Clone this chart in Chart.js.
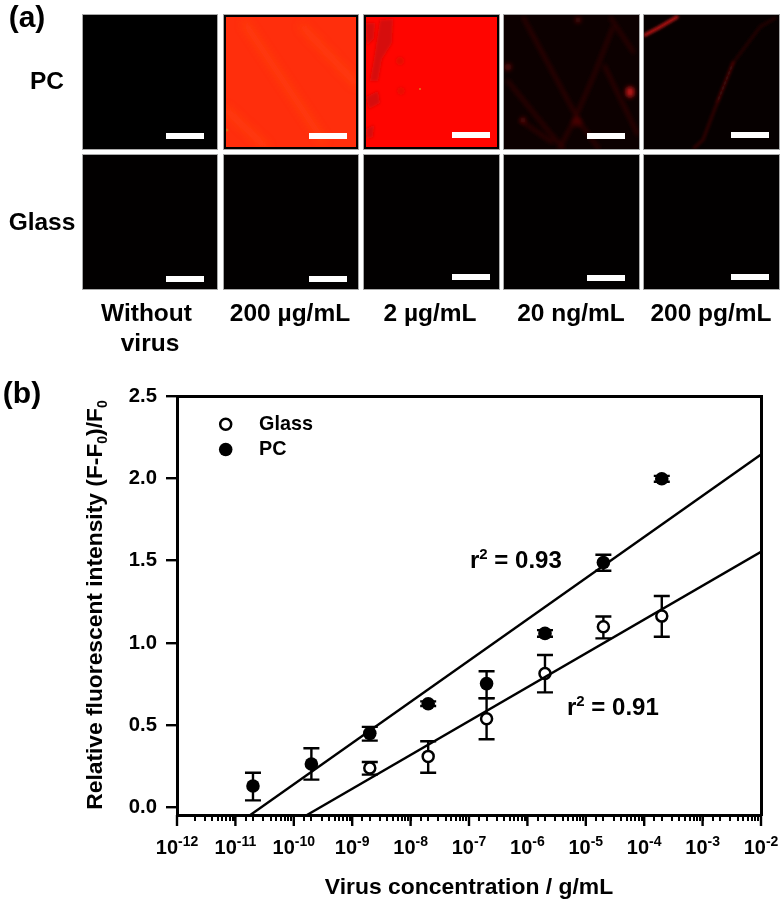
<!DOCTYPE html>
<html><head><meta charset="utf-8">
<script src="https://cdn.jsdelivr.net/npm/chart.js@4"></script>
<style>
html,body{margin:0;padding:0;background:#fff;width:782px;height:903px;overflow:hidden}
body{position:relative;font-family:"Liberation Sans",Arial,sans-serif;font-weight:bold;color:#000}
#c{position:absolute;left:0;top:0}
.t{position:absolute;white-space:nowrap;transform:translateX(-50%);font-size:24.5px;line-height:28px}
.p{position:absolute;width:134.5px;height:134px;background:#000;overflow:hidden;outline:1px solid #a8a8a8;outline-offset:0}
.b{position:absolute;background:#fff;height:6px;width:38px}
svg{position:absolute;left:0;top:0}
</style></head><body>
<canvas id="c" width="782" height="903"></canvas>
<div id="panels"></div>
<script>
const decades=[-12,-11,-10,-9,-8,-7,-6,-5,-4,-3,-2];
const concentrations=[2e-11,2e-10,2e-9,2e-8,2e-7,2e-6,2e-5,2e-4];
const pcValues=[0.131,0.265,0.451,0.631,0.753,1.058,1.489,1.997];
const pcHigh=[0.212,0.360,0.490,0.645,0.828,1.078,1.536,2.015];
const pcLow=[0.044,0.170,0.407,0.617,0.664,1.038,1.439,1.979];
const glassConc=[2e-9,2e-8,2e-7,2e-6,2e-5,2e-4];
const glassValues=[0.240,0.311,0.540,0.815,1.099,1.163];
const glassHigh=[0.277,0.403,0.665,0.927,1.161,1.285];
const glassLow=[0.200,0.212,0.415,0.700,1.028,1.038];
const pcFitX=[1.8e-11,1e-2], pcFitY=[-0.045,2.145];
const glassFitX=[1.68e-10,1e-2], glassFitY=[-0.045,1.554];
const yTicks=[0,0.5,1,1.5,2,2.5];

const toPts=(xs,ys)=>xs.map((x,i)=>({x,y:ys[i]}));
const F='"Liberation Sans",Arial,sans-serif';

const deco={id:'deco',
 beforeDatasetsDraw(ch){
  const {ctx,scales:{x,y}}=ch;
  ctx.save();ctx.strokeStyle='#000';ctx.lineWidth=2.4;
  const bars=(xs,hi,lo)=>xs.forEach((v,i)=>{
    const px=x.getPixelForValue(v),t=y.getPixelForValue(hi[i]),b=y.getPixelForValue(lo[i]);
    ctx.beginPath();ctx.moveTo(px,t);ctx.lineTo(px,b);
    ctx.moveTo(px-8,t);ctx.lineTo(px+8,t);ctx.moveTo(px-8,b);ctx.lineTo(px+8,b);ctx.stroke();});
  bars(concentrations,pcHigh,pcLow);bars(glassConc,glassHigh,glassLow);
  ctx.restore();
 },
 afterDraw(ch){
  const {ctx,scales:{x,y},chartArea:a}=ch;
  ctx.save();ctx.strokeStyle='#000';ctx.fillStyle='#000';
  decades.forEach(d=>{
    const p=x.getPixelForValue(Math.pow(10,d));
    ctx.lineWidth=2.4;ctx.beginPath();ctx.moveTo(p,a.bottom);ctx.lineTo(p,a.bottom+11);ctx.stroke();
    ctx.textAlign='left';ctx.textBaseline='alphabetic';
    const e=String(d);
    ctx.font='bold 20px '+F;const w1=ctx.measureText('10').width;
    ctx.font='bold 14px '+F;const w2=ctx.measureText(e).width;
    const sx=p-(w1+w2)/2;
    ctx.font='bold 20px '+F;ctx.fillText('10',sx,854);
    ctx.font='bold 14px '+F;ctx.fillText(e,sx+w1,846);
  });
  ctx.textBaseline='middle';ctx.textAlign='left';ctx.lineWidth=2.5;
  const lx=225.7;
  ctx.beginPath();ctx.arc(lx,424.3,5.5,0,7);ctx.fillStyle='#fff';ctx.fill();ctx.stroke();
  ctx.beginPath();ctx.arc(lx,449.5,6.8,0,7);ctx.fillStyle='#000';ctx.fill();
  ctx.font='bold 19.8px '+F;
  ctx.fillText('Glass',259,424.8);ctx.fillText('PC',259,450);
  const rr=(px,py,val)=>{ctx.textBaseline='alphabetic';ctx.font='bold 24px '+F;ctx.fillText('r',px,py);
    const w=ctx.measureText('r').width;ctx.font='bold 15px '+F;ctx.fillText('2',px+w,py-9);
    const w2=ctx.measureText('2').width;ctx.font='bold 24px '+F;ctx.fillText(' = '+val,px+w+w2,py);};
  rr(470,568,'0.93');rr(567,715,'0.91');
  ctx.save();ctx.translate(102,605);ctx.rotate(-Math.PI/2);
  const parts=[['Relative fluorescent intensity (F-F',0],['0',1],[')/F',0],['0',1]];
  let tw=0;parts.forEach(p=>{ctx.font='bold '+(p[1]?14:22.8)+'px '+F;tw+=ctx.measureText(p[0]).width;});
  let cx=-tw/2;ctx.textAlign='left';ctx.textBaseline='alphabetic';
  parts.forEach(p=>{ctx.font='bold '+(p[1]?14:22.8)+'px '+F;ctx.fillText(p[0],cx,p[1]?5:0);cx+=ctx.measureText(p[0]).width;});
  ctx.restore();
  ctx.restore();
 }};

new Chart(document.getElementById('c'),{
 type:'scatter',
 data:{datasets:[
  {label:'PC fit',data:toPts(pcFitX,pcFitY),showLine:true,borderColor:'#000',borderWidth:2.4,pointRadius:0},
  {label:'Glass fit',data:toPts(glassFitX,glassFitY),showLine:true,borderColor:'#000',borderWidth:2.4,pointRadius:0},
  {label:'PC',data:toPts(concentrations,pcValues),pointRadius:6.8,pointBackgroundColor:'#000',pointBorderColor:'#000',borderWidth:0,pointBorderWidth:0},
  {label:'Glass',data:toPts(glassConc,glassValues),pointRadius:5.5,pointBackgroundColor:'#fff',pointBorderColor:'#000',pointBorderWidth:2.5}
 ]},
 options:{responsive:false,animation:false,
  layout:{padding:{left:0,right:0,top:0,bottom:0}},
  plugins:{legend:{display:false},tooltip:{enabled:false}},
  scales:{
   x:{type:'logarithmic',min:1e-12,max:1e-2,
      position:'bottom',
      border:{color:'#000',width:3},
      grid:{drawOnChartArea:false,color:'#000',tickLength:6,lineWidth:2},
      title:{display:true,text:'Virus concentration / g/mL',color:'#000',font:{family:F,size:22.9,weight:'bold'},padding:{top:9,bottom:2}},
      afterFit(s){s.height=88;},
      ticks:{autoSkip:false,maxRotation:0,color:'#000',padding:4,font:{family:F,size:19,weight:'bold'},callback(){return '';}}},
   y:{min:-0.045,max:2.5,
      border:{color:'#000',width:3},
      afterFit(s){s.width=177;},
      afterBuildTicks(s){s.ticks=yTicks.map(v=>({value:v}));},
      grid:{drawOnChartArea:false,color:'#000',tickLength:11,lineWidth:2.4},
      ticks:{color:'#000',padding:9,font:{family:F,size:20.3,weight:'bold'},callback:v=>v.toFixed(1)}},
   x2:{display:true,position:'top',type:'logarithmic',min:1e-12,max:1e-2,border:{color:'#000',width:3},grid:{display:false,drawTicks:false},ticks:{display:false},afterFit(s){s.height=396;}},
   y2:{display:true,position:'right',min:-0.045,max:2.5,border:{color:'#000',width:3},grid:{display:false,drawTicks:false},ticks:{display:false},afterFit(s){s.width=21;}}
  }},
 plugins:[deco]
});

const xs=[82.5,223.5,364,504,644];
const rows=[14.7,154.7];
const bars=[[[165.5,133.3],[308.5,133.3],[452,132.3],[586.5,133.3],[730.5,132]],[[165.5,275.7],[308.5,275.7],[452,274.2],[586.5,275],[730.5,274]]];
const svgs=[
 '',
 '<svg width="135" height="134"><defs><filter id="f1" x="-30%" y="-30%" width="160%" height="160%"><feGaussianBlur stdDeviation="4"/></filter></defs><rect width="135" height="134" fill="#ff2e0c"/><g filter="url(#f1)" stroke="#ff4c10" fill="none" stroke-width="6" opacity=".6"><path d="M20 7L100 127"/><path d="M77 10L133 70"/><path d="M0 93L43 133"/></g><circle cx="3" cy="115" r="1.5" fill="#e06010"/></svg>',
 '<svg width="135" height="134"><defs><filter id="f2" x="-30%" y="-30%" width="160%" height="160%"><feGaussianBlur stdDeviation="1.8"/></filter></defs><rect width="135" height="134" fill="#ff0500"/><g filter="url(#f2)" fill="#d6100a"><path d="M16 5L29 4L28 28L18 44L14 66L6 66L10 44Z"/><path d="M1 8L11 8L10 24L3 30Z"/><path d="M2 82L14 76L16 88L5 94Z"/><path d="M2 114L10 110L9 122L3 124Z"/><circle cx="36" cy="46" r="4" opacity=".6"/><circle cx="37" cy="76" r="4" opacity=".5"/></g><circle cx="56" cy="74" r="1" fill="#e08020"/></svg>',
 '<svg width="135" height="134"><defs><filter id="f3" x="-30%" y="-30%" width="160%" height="160%"><feGaussianBlur stdDeviation="2.2"/></filter></defs><rect width="135" height="134" fill="#0c0000"/><g filter="url(#f3)" fill="none" stroke="#340404" stroke-width="3"><path d="M19 2L76 108L95 134"/><path d="M106 2L130 38"/><path d="M109 12L90 60L69 108L55 134"/><path d="M3 65L46 118L60 134"/><path d="M16 105L49 128"/><path d="M100 50L134 120"/></g><g filter="url(#f3)" fill="#b81212"><ellipse cx="126" cy="77" rx="4.5" ry="5.5"/><circle cx="4" cy="52" r="3.5" opacity=".45"/><circle cx="19" cy="105" r="3" opacity=".4"/><circle cx="74" cy="5" r="3" opacity=".4"/><circle cx="73" cy="107" r="5" opacity=".25"/></g></svg>',
 '<svg width="135" height="134"><defs><filter id="f4" x="-30%" y="-30%" width="160%" height="160%"><feGaussianBlur stdDeviation="1.4"/></filter></defs><rect width="135" height="134" fill="#060000"/><g filter="url(#f4)" fill="none" stroke-linecap="round"><path d="M1 20L16 12L33 2" stroke="#d81818" stroke-width="3"/><path d="M131 3L116 12L89 48" stroke="#220303" stroke-width="3"/><path d="M89 48L73 88" stroke="#580707" stroke-width="2.5"/><path d="M73 88L59 125L50 133" stroke="#380505" stroke-width="2.5"/></g></svg>'
];
const host=document.getElementById('panels');
let html='';
rows.forEach((ry,r)=>xs.forEach((x,i)=>{
  const inner=r===0?svgs[i]:'';
  const outline=(r===0&&(i===1||i===2))?'box-shadow:inset 0 0 0 2px #000;':'';
  html+=`<div class="p" style="left:${x}px;top:${ry}px;background:${r===1?'#020000':'#000'}">${inner}<div style="position:absolute;inset:0;${outline}"></div></div>`;
  html+=`<div class="b" style="left:${bars[r][i][0]}px;top:${bars[r][i][1]}px"></div>`;
}));
const caps=[['PC',47,67],['Glass',42,208],['Without',146.5,299],['virus',150,329],['200 µg/mL',290,299],['2 µg/mL',430,299],['20 ng/mL',571,299],['200 pg/mL',711,299]];
caps.forEach(c=>html+=`<div class="t" style="left:${c[1]}px;top:${c[2]}px">${c[0]}</div>`);
html+=`<div class="t" style="left:27px;top:0px;font-size:30px;line-height:34px">(a)</div>`;
html+=`<div class="t" style="left:22px;top:376px;font-size:30px;line-height:34px">(b)</div>`;
host.innerHTML=html;
</script>
</body></html>
